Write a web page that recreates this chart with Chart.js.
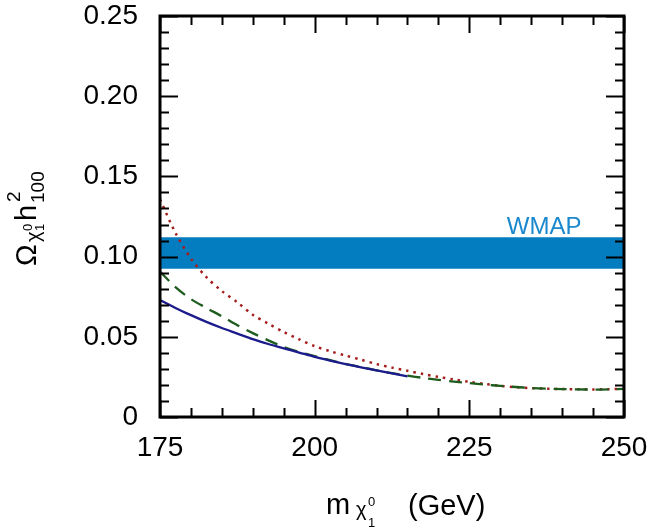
<!DOCTYPE html>
<html>
<head>
<meta charset="utf-8">
<script src="https://cdn.jsdelivr.net/npm/chart.js@4/dist/chart.umd.min.js"></script>
<style>
  html, body { margin: 0; padding: 0; background: #fff; }
  #wrap { width: 656px; height: 529px; }
</style>
</head>
<body>
<div id="wrap"><canvas id="myChart" width="656" height="529"></canvas></div>
<script>
// neutralino mass grid (GeV)
var massSolid = [175,177.5,180,182.5,185,187.5,190,192.5,195,197.5,200,202.5,205,207.5,210,212.5,215];
var massLong = [175,177.5,180,182.5,185,187.5,190,192.5,195,197.5,200,202.5,205,207.5,210,212.5,215,
                217.5,220,222.5,225,227.5,230,232.5,235,237.5,240,242.5,245,247.5,250];

// relic density curves
var omegaSolid = [0.073,0.068,0.0635,0.0593,0.0555,0.052,0.0485,0.0455,0.0428,0.0402,0.0375,
                  0.0352,0.033,0.031,0.0291,0.0272,0.0254];
var omegaDashed = [0.0906,0.081,0.0735,0.068,0.0628,0.0572,0.0523,0.0478,0.0437,0.0405,0.0379,
                   0.0354,0.0331,0.0311,0.0291,0.0273,0.0258,0.0244,0.0232,0.0221,0.0211,0.0202,
                   0.0194,0.0187,0.0181,0.0177,0.0174,0.0172,0.0171,0.0172,0.0175];
var omegaDotted = [0.1357,0.1148,0.0988,0.0872,0.0785,0.0715,0.0637,0.0582,0.053,0.0484,0.0442,
                   0.041,0.0383,0.0357,0.033,0.0308,0.0288,0.0268,0.025,0.0234,0.0219,0.0206,
                   0.0195,0.0186,0.018,0.0176,0.0174,0.0173,0.0172,0.0173,0.0176];

// WMAP band
var wmapRange = [175, 250];
var wmapLow = 0.0925;
var wmapHigh = 0.112;

// axis ticks
var xMajor = [175, 200, 225, 250];
var yMajor = [0, 0.05, 0.10, 0.15, 0.20, 0.25];
var xMinorStep = 5;
var yMinorStep = 0.01;

var FONT = "'Liberation Sans', Arial, Helvetica, sans-serif";

function pts(xs, ys) {
    return xs.map(function (x, i) { return {x: x, y: ys[i]}; });
}

// frame, inward ticks, axis titles, band label
var decor = {
    id: 'decor',
    afterDraw: function (chart) {
        var ctx = chart.ctx;
        var a = chart.chartArea;
        var xs = chart.scales.x, ys = chart.scales.y;
        ctx.save();
        ctx.strokeStyle = '#000';
        ctx.lineWidth = 2;
        for (var v = xs.min; v <= xs.max + 1e-9; v += xMinorStep) {
            var px = Math.round(xs.getPixelForValue(v)) + 0.5;
            var len = xMajor.indexOf(Math.round(v)) >= 0 ? 17 : 9;
            ctx.beginPath();
            ctx.moveTo(px, a.bottom); ctx.lineTo(px, a.bottom - len);
            ctx.moveTo(px, a.top); ctx.lineTo(px, a.top + len);
            ctx.stroke();
        }
        for (var k = 0; k <= 25; k++) {
            var val = k * yMinorStep;
            var py = Math.round(ys.getPixelForValue(val)) + 0.5;
            var l2 = (k % 5 === 0) ? 18 : 9;
            ctx.beginPath();
            ctx.moveTo(a.left, py); ctx.lineTo(a.left + l2, py);
            ctx.moveTo(a.right, py); ctx.lineTo(a.right - l2, py);
            ctx.stroke();
        }
        ctx.lineWidth = 3;
        ctx.strokeRect(a.left, a.top, a.right - a.left, a.bottom - a.top);

        // WMAP label
        ctx.fillStyle = '#1a88cc';
        ctx.font = '24px ' + FONT;
        ctx.textAlign = 'center';
        ctx.textBaseline = 'alphabetic';
        ctx.fillText('WMAP', xs.getPixelForValue(237.1), ys.getPixelForValue(0.1142));

        ctx.fillStyle = '#000';
        ctx.textAlign = 'left';
        // x title
        ctx.font = '29px ' + FONT;
        ctx.fillText('m', 326, 514);
        ctx.font = '20px ' + FONT;
        ctx.fillText('\u03c7', 356, 516);
        ctx.font = '13px ' + FONT;
        ctx.fillText('0', 368, 506);
        ctx.fillText('1', 368, 527);
        ctx.font = '29px ' + FONT;
        ctx.fillText('(GeV)', 408, 515);

        // y title (rotated)
        ctx.translate(36, 266);
        ctx.rotate(-Math.PI / 2);
        ctx.font = '29px ' + FONT;
        ctx.fillText('\u03a9', 0, 0);
        ctx.font = '20px ' + FONT;
        ctx.fillText('\u03c7', 24, 4);
        ctx.font = '13px ' + FONT;
        ctx.fillText('0', 35, -4);
        ctx.fillText('1', 35, 8);
        ctx.font = '29px ' + FONT;
        ctx.fillText('h', 45, 0);
        ctx.font = '19px ' + FONT;
        ctx.fillText('2', 64, -16);
        ctx.fillText('100', 63, 8);
        ctx.restore();
    }
};

var ctx = document.getElementById('myChart');
var chart = new Chart(ctx, {
    type: 'line',
    data: {
        datasets: [
            {
                data: pts(massSolid, omegaSolid),
                borderColor: '#1b1b8c', borderWidth: 2.3, pointRadius: 0, tension: 0.3, fill: false
            },
            {
                data: pts(massLong, omegaDashed),
                borderColor: '#1e5c1e', borderWidth: 2.3, borderDash: [13, 8], pointRadius: 0, tension: 0.3, fill: false
            },
            {
                data: pts(massLong, omegaDotted),
                borderColor: '#a51c1c', borderWidth: 2.5, borderDash: [2.5, 5], pointRadius: 0, tension: 0.3, fill: false
            },
            {
                data: pts(wmapRange, [wmapHigh, wmapHigh]),
                borderWidth: 0, borderColor: 'rgba(0,0,0,0)', pointRadius: 0,
                backgroundColor: '#047dc0', fill: {value: wmapLow}
            }
        ]
    },
    options: {
        responsive: false,
        animation: false,
        events: [],
        layout: { padding: { top: 16, right: 32, left: 0, bottom: 0 } },
        plugins: { legend: { display: false }, tooltip: { enabled: false } },
        scales: {
            x: {
                type: 'linear', min: 175, max: 250,
                grid: { display: false, drawTicks: false },
                border: { display: false },
                ticks: { stepSize: 25, padding: 14, color: '#000', maxRotation: 0,
                         font: { family: FONT, size: 28 } },
                afterFit: function (s) { s.height = 112; s.paddingLeft = 0; s.paddingRight = 0; }
            },
            y: {
                min: 0, max: 0.25,
                grid: { display: false, drawTicks: false },
                border: { display: false },
                ticks: { stepSize: 0.05, padding: 22, color: '#000',
                         font: { family: FONT, size: 28 },
                         callback: function (v) { return Math.abs(v) < 1e-9 ? '0' : v.toFixed(2); } },
                afterFit: function (s) { s.width = 160; s.paddingTop = 0; s.paddingBottom = 0; }
            }
        }
    },
    plugins: [decor]
});
</script>
</body>
</html>
